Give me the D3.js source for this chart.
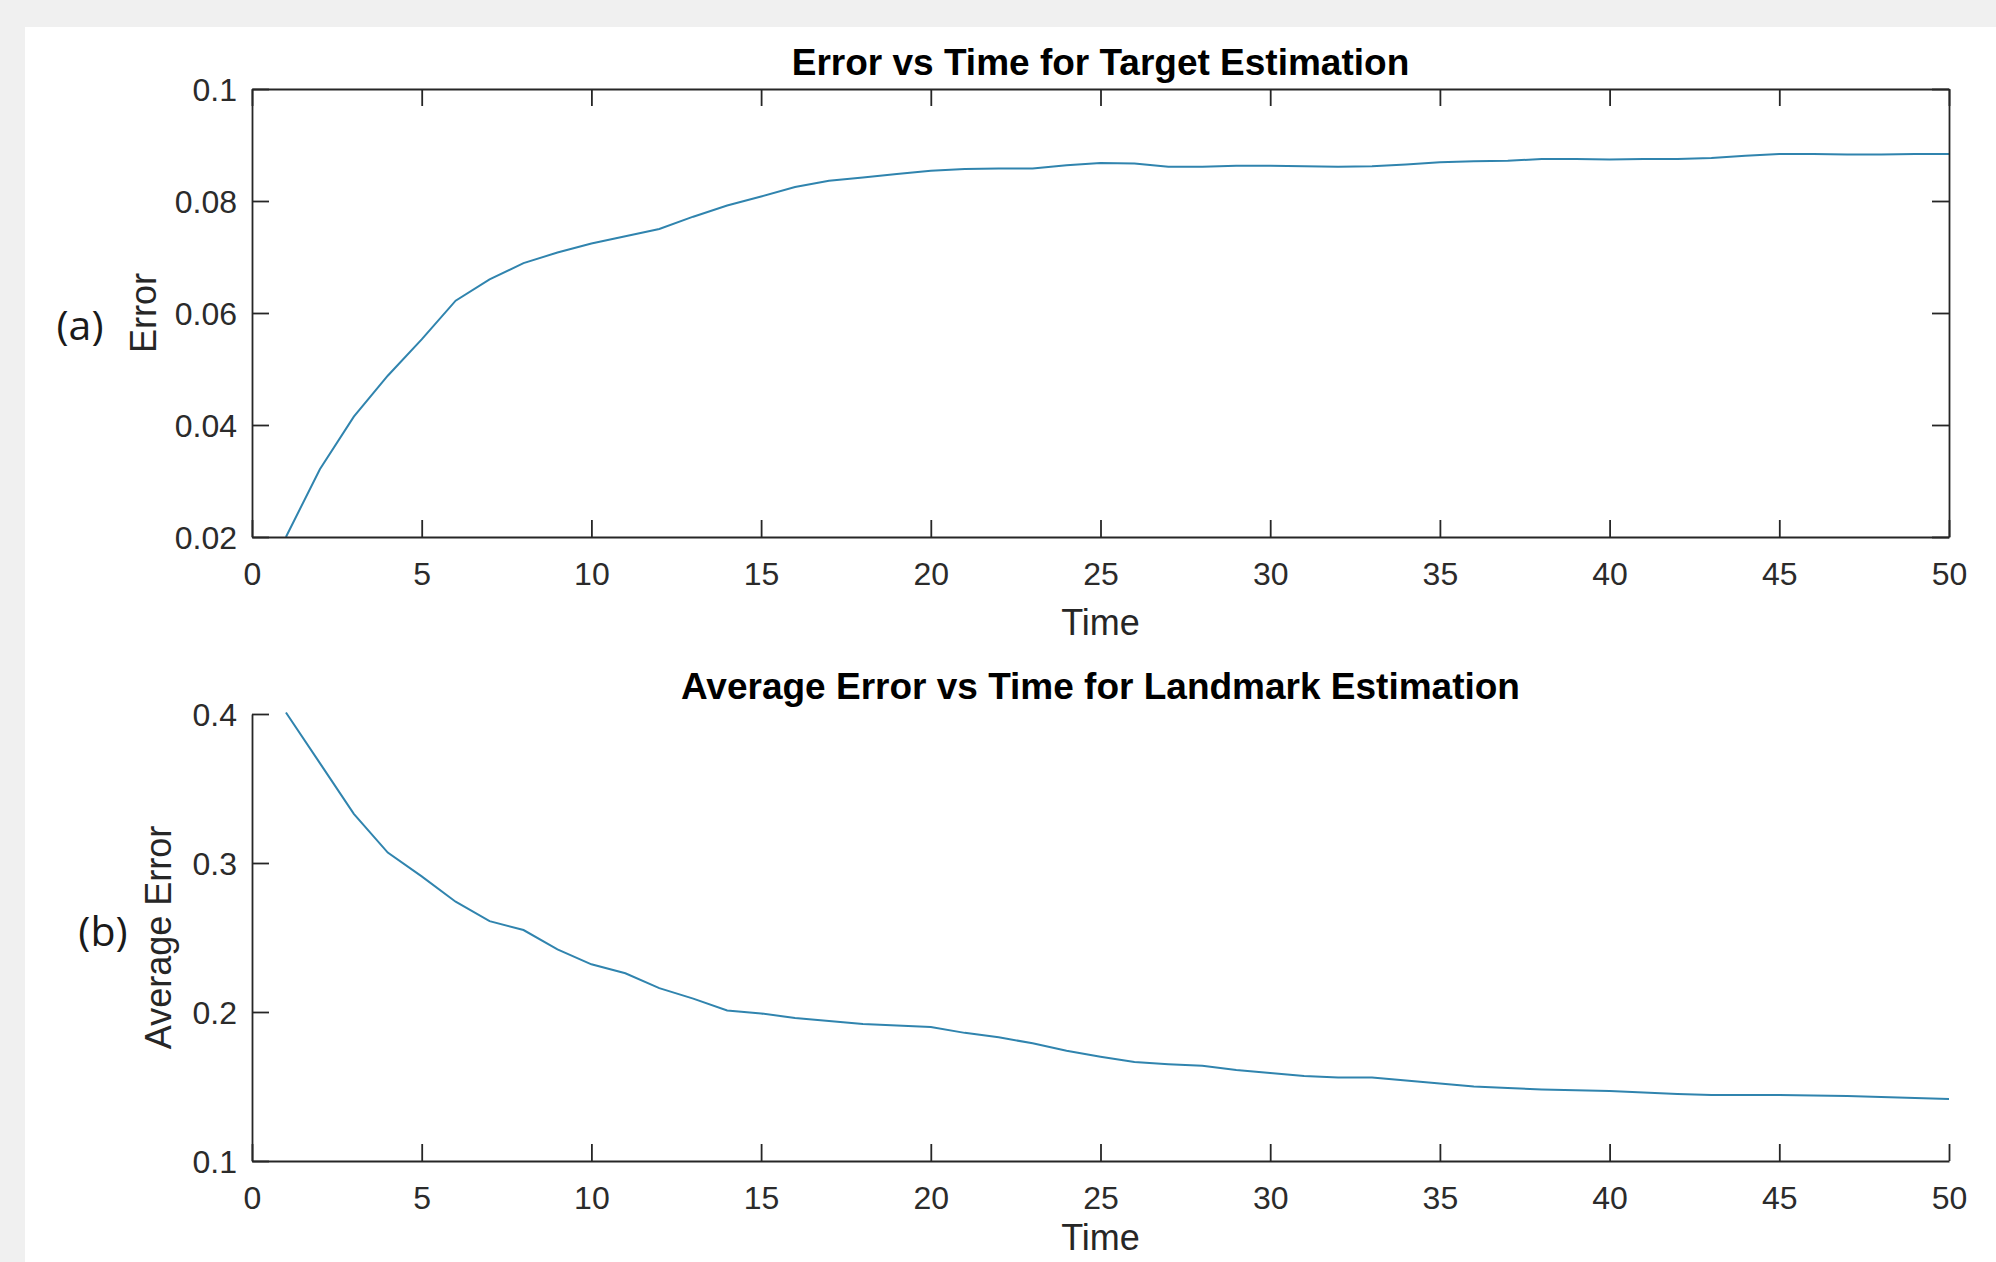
<!DOCTYPE html>
<html>
<head>
  <meta charset="utf-8">
  <style> /* set the CSS */

  body {
    margin: 0;
    background-color: #f0f0f0;
  }

  .line {
    fill: none;
    stroke: #3084ae;
    stroke-width: 2px;
  }

  .axis text {
    font-family: "Liberation Sans", Arial, sans-serif;
    font-size: 32px;
    fill: #2b2b2b;
  }

  .axis path, .axis line {
    stroke: #262626;
    stroke-width: 1.8px;
  }

  .title {
    font-family: "Liberation Sans", Arial, sans-serif;
    font-weight: bold;
    font-size: 37px;
    fill: #000;
  }

  .label {
    font-family: "Liberation Sans", Arial, sans-serif;
    font-size: 36px;
    fill: #262626;
  }

  .panel {
    font-family: "Open Sans", sans-serif;
    font-size: 41px;
    fill: #1a1a1a;
  }

  </style>
  <script src="https://d3js.org/d3.v7.min.js"></script>
</head>
<body>

<svg id="svg1"></svg>

<script>

// time steps
var time = [1, 2, 3, 4, 5, 6, 7, 8, 9, 10,
            11, 12, 13, 14, 15, 16, 17, 18, 19, 20,
            21, 22, 23, 24, 25, 26, 27, 28, 29, 30,
            31, 32, 33, 34, 35, 36, 37, 38, 39, 40,
            41, 42, 43, 44, 45, 46, 47, 48, 49, 50];

// (a) error of the target estimate
var targetError = [0.0200, 0.0321, 0.0415, 0.0488, 0.0553, 0.0622, 0.0660, 0.0689, 0.0708, 0.0724,
                   0.0737, 0.0750, 0.0772, 0.0792, 0.0808, 0.0825, 0.0836, 0.0842, 0.0848, 0.0854,
                   0.0857, 0.0858, 0.0858, 0.0864, 0.0868, 0.0867, 0.0861, 0.0861, 0.0863, 0.0863,
                   0.0862, 0.0861, 0.0862, 0.0865, 0.0869, 0.0871, 0.0872, 0.0875, 0.0875, 0.0874,
                   0.0875, 0.0875, 0.0877, 0.0881, 0.0884, 0.0884, 0.0883, 0.0883, 0.0884, 0.0884];

// (b) average error of the landmark estimates
var landmarkError = [0.401, 0.367, 0.333, 0.307, 0.291, 0.274, 0.261, 0.255, 0.242, 0.232,
                     0.226, 0.216, 0.209, 0.201, 0.199, 0.196, 0.194, 0.192, 0.191, 0.190,
                     0.186, 0.183, 0.179, 0.174, 0.170, 0.1665, 0.165, 0.164, 0.161, 0.159,
                     0.157, 0.156, 0.156, 0.154, 0.152, 0.150, 0.149, 0.148, 0.1475, 0.147,
                     0.146, 0.145, 0.1443, 0.1443, 0.1443, 0.144, 0.1437, 0.143, 0.1423, 0.1416];

// tick values
var xTicks = [0, 5, 10, 15, 20, 25, 30, 35, 40, 45, 50];
var topYTicks = [0.02, 0.04, 0.06, 0.08, 0.1];
var bottomYTicks = [0.1, 0.2, 0.3, 0.4];

var titles = ["Error vs Time for Target Estimation", "Average Error vs Time for Landmark Estimation"];
var yLabels = ["Error", "Average Error"];
var panelLabels = ["(a)", "(b)"];


var W = 1996, H = 1262;
var tickLen = 17;

var svg = d3.select("#svg1")
    .attr("width", W)
    .attr("height", H)
    .style("display", "block");

// white figure area
svg.append("rect")
    .attr("x", 25).attr("y", 27)
    .attr("width", W - 25).attr("height", H - 27)
    .attr("fill", "#fff");

var fmt = function(d) { return String(+d.toFixed(2)); };

function drawPlot(opts) {
  var width = opts.right - opts.left,
      height = opts.bottom - opts.top;

  var x = d3.scaleLinear().domain([0, 50]).range([0, width]);
  var y = d3.scaleLinear().domain(opts.yDomain).range([height, 0]);

  var g = svg.append("g")
      .attr("transform", "translate(" + opts.left + "," + opts.top + ")");

  var data = time.map(function(t, i) { return {x: t, y: opts.values[i]}; });

  // the line
  var valueline = d3.line()
      .x(function(d) { return x(d.x); })
      .y(function(d) { return y(d.y); });

  g.append("path")
      .datum(data)
      .attr("class", "line")
      .attr("d", valueline);

  // x axis, ticks pointing inwards
  g.append("g")
      .attr("class", "axis")
      .attr("transform", "translate(0," + height + ")")
      .call(d3.axisBottom(x).tickValues(xTicks).tickSizeInner(-tickLen).tickSizeOuter(0).tickPadding(25));

  // y axis
  g.append("g")
      .attr("class", "axis")
      .call(d3.axisLeft(y).tickValues(opts.yTicks).tickSizeInner(-tickLen).tickSizeOuter(0)
          .tickPadding(15).tickFormat(fmt));

  if (opts.box) {
    g.append("g")
        .attr("class", "axis")
        .call(d3.axisTop(x).tickValues(xTicks).tickSizeInner(-tickLen).tickSizeOuter(0).tickFormat(""));
    g.append("g")
        .attr("class", "axis")
        .attr("transform", "translate(" + width + ",0)")
        .call(d3.axisRight(y).tickValues(opts.yTicks).tickSizeInner(-tickLen).tickSizeOuter(0).tickFormat(""));
  }

  g.selectAll(".axis text").attr("dy", null);
  g.selectAll(".axis .tick text")
      .filter(function() { return this.getAttribute("x") == null || +this.getAttribute("x") === 0; })
      .attr("dy", "0.71em");
  g.selectAll(".axis .tick text")
      .filter(function() { return +this.getAttribute("x") < 0; })
      .attr("dy", "0.35em");

  // title
  svg.append("text")
      .attr("class", "title")
      .attr("x", opts.left + width / 2)
      .attr("y", opts.titleY)
      .attr("text-anchor", "middle")
      .text(opts.title);

  // x label
  svg.append("text")
      .attr("class", "label")
      .attr("x", opts.left + width / 2)
      .attr("y", opts.xLabelY)
      .attr("text-anchor", "middle")
      .text("Time");

  // y label
  svg.append("text")
      .attr("class", "label")
      .attr("transform", "translate(" + opts.yLabelX + "," + (opts.top + height / 2) + ") rotate(-90)")
      .attr("text-anchor", "middle")
      .text(opts.yLabel);

  // panel letter
  svg.append("text")
      .attr("class", "panel")
      .attr("x", opts.panelX)
      .attr("y", opts.panelY)
      .attr("text-anchor", "middle")
      .attr("dy", "0.35em")
      .text(opts.panel);
}

drawPlot({
  left: 252, right: 1949, top: 89, bottom: 537,
  yDomain: [0.02, 0.1], yTicks: topYTicks, values: targetError, box: true,
  title: titles[0], titleY: 75, xLabelY: 635, yLabel: yLabels[0], yLabelX: 156,
  panel: panelLabels[0], panelX: 80, panelY: 326
});

drawPlot({
  left: 252, right: 1949, top: 714, bottom: 1161,
  yDomain: [0.1, 0.4], yTicks: bottomYTicks, values: landmarkError, box: false,
  title: titles[1], titleY: 699, xLabelY: 1250, yLabel: yLabels[1], yLabelX: 171,
  panel: panelLabels[1], panelX: 103, panelY: 932
});

</script>

</body>
</html>
